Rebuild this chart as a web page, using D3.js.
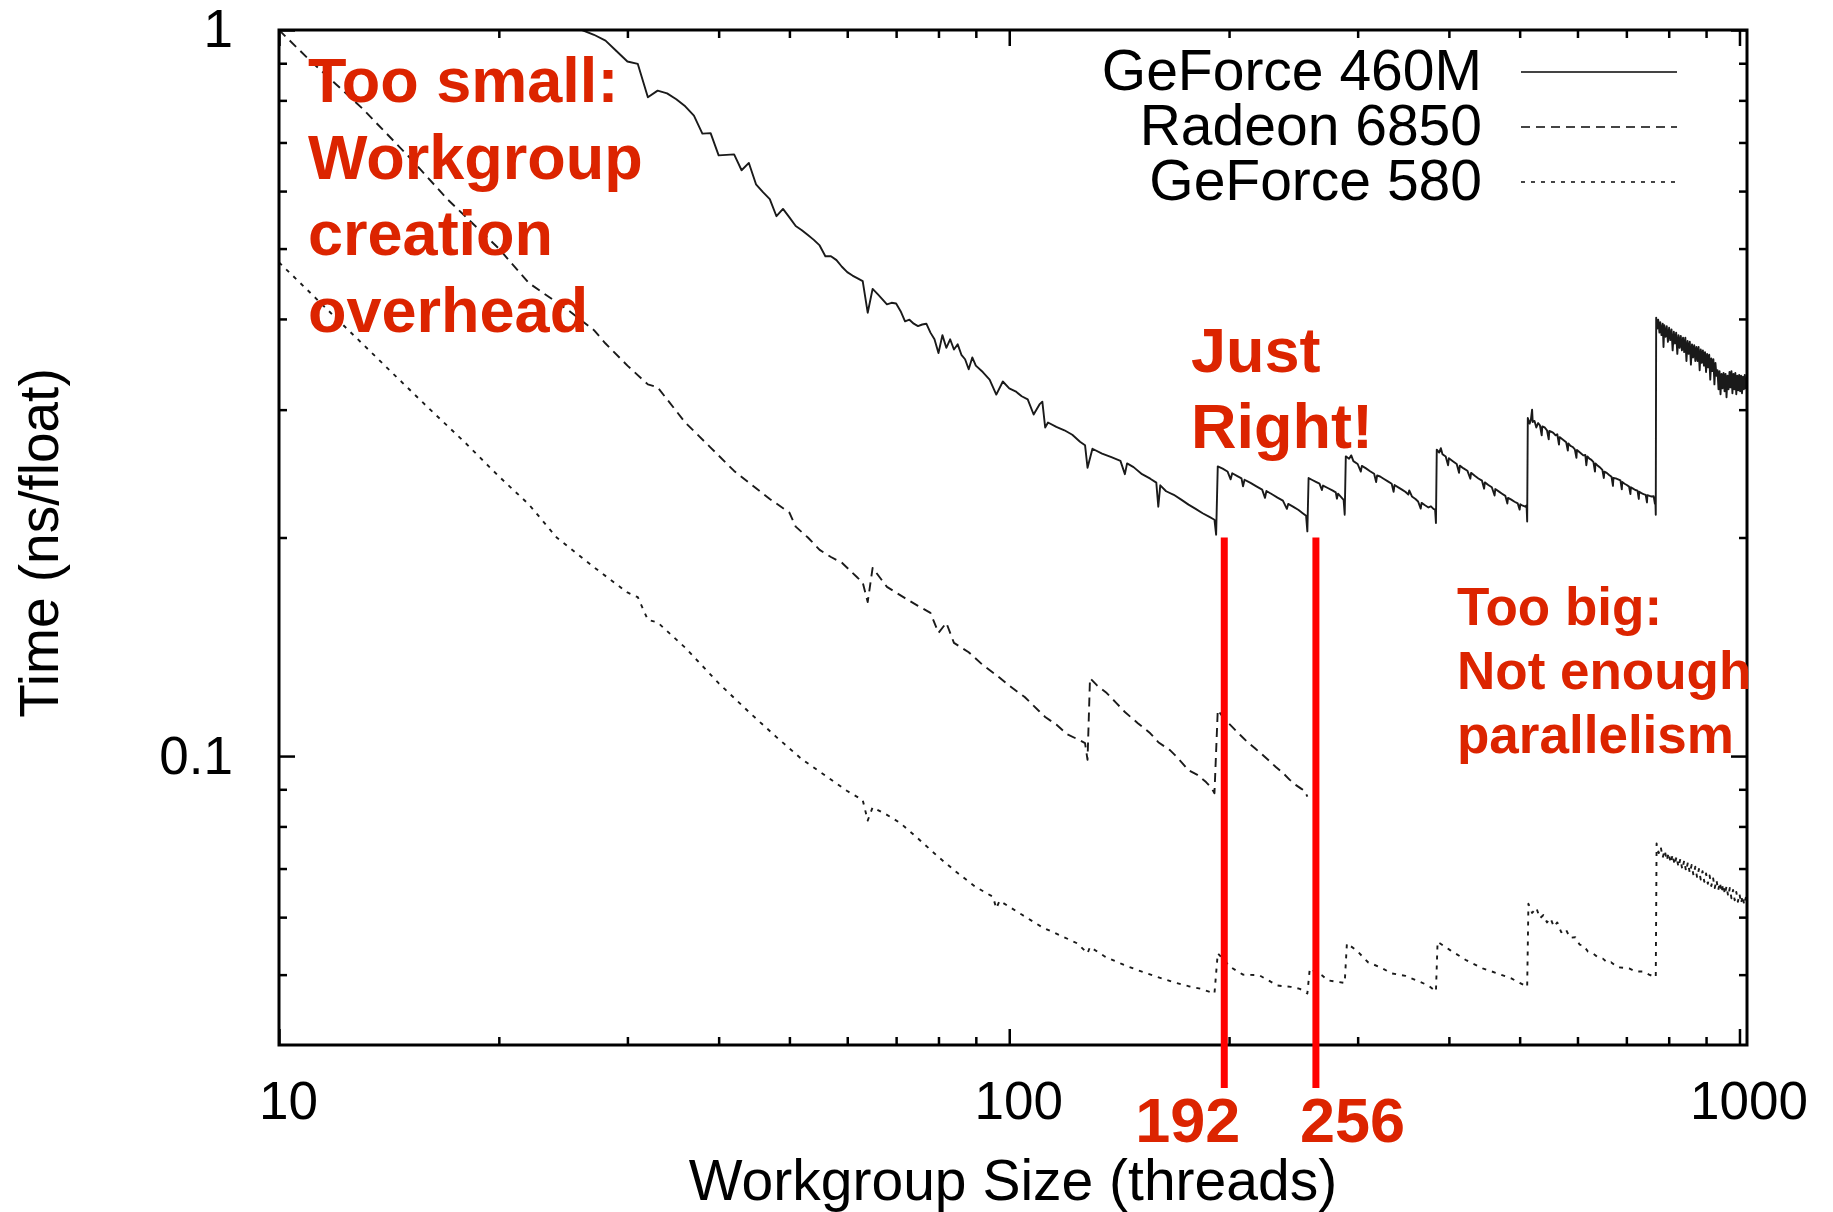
<!DOCTYPE html>
<html>
<head>
<meta charset="utf-8">
<script src="https://cdn.jsdelivr.net/npm/d3@7"></script>
<style>
  body { margin: 0; background: #fff; }
  text { font-family: "Liberation Sans", Arial, Helvetica, sans-serif; }
</style>
</head>
<body>
<div id="chart"></div>
<script>
// Data
//= ================================
var seriesNames = ["GeForce 460M", "Radeon 6850", "GeForce 580"];

var sizes460 = [24,25,26,27,28,29,30,31,32,33,34,35,36,37,38,39,40,41,42,43,44,45,46,47,48,49,50,51,52,53,54,55,56,57,58,59,60,61,62,63,64,65,66,67,68,69,70,71,72,73,74,75,76,77,78,79,80,81,82,83,84,85,86,87,88,89,90,92,94,96,98,100,102,104,106,108,110,111,112,113,116,119,122,125,127,128,130,134,138,142,144,145,148,152,156,159,160,161,164,168,172,176,180,184,188,191,192,
  193,196,199,201,202,205,208,209,210,214,218,222,224,225,229,233,237,240,241,245,249,252,255,256,
  257,260,263,266,268,269,273,277,280,281,282,285,287,288,
  289,292,294,296,300,303,304,308,312,316,318,319,322,326,330,334,336,337,341,345,349,352,353,356,360,363,366,367,371,375,378,381,383,384,
  385,388,390,392,396,399,400,405,410,413,414,419,424,428,429,434,439,444,447,448,453,458,462,463,468,473,478,481,482,487,492,497,500,501,505,509,511,512,
  513,516,518,520,521,524,527,530,533,536,537,541,545,548,549,553,556,560,563,566,567,571,575,579,582,583,587,591,595,598,599,603,607,611,615,617,619,623,627,631,634,635,640,645,649,652,653,658,663,668,671,672,677,682,687,690,691,696,701,706,709,710,715,720,725,728,729,734,739,744,747,748,753,758,763,766,767,768,
  769,772,774,777,779,782,785,787,789,792,795,798,801,804,807,810,813,816,819,822,825,828,831,834,837,840,843,846,849,852,855,858,861,864,867,870,873,876,879,882,885,888,891,894,897,900,903,906,909,912,915,918,921,924,927,930,933,936,939,942,945,948,951,954,957,960,963,966,969,972,975,978,981,984,987,990,993,996,999,1002,1005,1008,1011,1014,1017,1020,1023];
var time460 = [1.07,1.03,1.0,0.985,0.967,0.935,0.905,0.898,0.808,0.825,0.818,0.803,0.785,0.762,0.72,0.721,0.672,0.673,0.674,0.641,0.656,0.613,0.598,0.585,0.554,0.567,0.552,0.537,0.53,0.522,0.514,0.505,0.488,0.488,0.482,0.472,0.464,0.459,0.455,0.451,0.408,0.44,0.433,0.426,0.419,0.421,0.42,0.41,0.397,0.399,0.394,0.391,0.393,0.394,0.383,0.375,0.359,0.38,0.365,0.375,0.363,0.369,0.357,0.352,0.341,0.354,0.345,0.338,0.33,0.3147,0.328,0.321,0.318,0.313,0.31,0.2954,0.305,0.3077,0.2835,0.288,0.284,0.281,0.277,0.271,0.268,0.2495,0.265,0.261,0.258,0.255,0.2445,0.253,0.25,0.2445,0.241,0.238,0.2205,0.236,0.2316,0.229,0.2255,0.222,0.219,0.216,0.2135,0.2116,0.2018,
  0.2506,0.2488,0.2466,0.2405,0.2452,0.2432,0.2412,0.2352,0.2402,0.2378,0.2352,0.2328,0.2268,0.2318,0.2294,0.227,0.2248,0.219,0.2225,0.2204,0.2182,0.2162,0.2142,0.2039,
  0.2415,0.24,0.2386,0.2372,0.2325,0.2358,0.234,0.2322,0.2308,0.2262,0.2298,0.2272,0.2254,0.215,
  0.2587,0.2568,0.2595,0.2548,0.2525,0.2465,0.251,0.249,0.2468,0.2448,0.2385,0.2435,0.2427,0.2408,0.239,0.2372,0.2312,0.2362,0.2345,0.2328,0.231,0.2292,0.2322,0.2278,0.226,0.2242,0.2192,0.2232,0.2215,0.22,0.2208,0.219,0.2184,0.2094,
  0.2643,0.2618,0.2655,0.2605,0.2585,0.2515,0.2572,0.2548,0.2525,0.2455,0.2512,0.249,0.2472,0.241,0.2455,0.2432,0.2412,0.2395,0.2335,0.2382,0.2362,0.2345,0.2285,0.2332,0.2315,0.2298,0.2282,0.2228,0.2268,0.2255,0.224,0.2228,0.2185,0.2222,0.2212,0.2205,0.2215,0.2104,
  0.2922,0.287,0.2905,0.3,0.2885,0.2895,0.2835,0.2875,0.2855,0.2765,0.2845,0.2835,0.281,0.273,0.2805,0.2795,0.2787,0.2765,0.2775,0.2685,0.275,0.2735,0.272,0.2705,0.2635,0.2695,0.2675,0.2665,0.2645,0.2575,0.264,0.2625,0.261,0.2595,0.2598,0.2515,0.2587,0.2568,0.2558,0.254,0.2465,0.253,0.251,0.2495,0.2478,0.2415,0.2465,0.2455,0.2438,0.2425,0.2355,0.2415,0.2412,0.2405,0.2398,0.233,0.2385,0.2372,0.2362,0.235,0.2295,0.2345,0.2335,0.2325,0.232,0.226,0.2312,0.2302,0.2295,0.229,0.2235,0.2288,0.2282,0.2278,0.2279,0.2225,0.226,0.215,
  0.4016,0.388,0.399,0.383,0.396,0.38,0.394,0.366,0.392,0.378,0.391,0.372,0.389,0.374,0.387,0.362,0.384,0.37,0.383,0.358,0.38,0.365,0.379,0.362,0.377,0.36,0.377,0.35,0.373,0.358,0.372,0.346,0.369,0.354,0.368,0.35,0.366,0.35,0.366,0.34,0.363,0.348,0.362,0.345,0.36,0.338,0.358,0.343,0.357,0.33,0.353,0.339,0.352,0.325,0.348,0.334,0.34,0.32,0.339,0.315,0.336,0.321,0.337,0.318,0.336,0.312,0.334,0.32,0.338,0.322,0.339,0.316,0.336,0.32,0.337,0.315,0.334,0.319,0.335,0.318,0.334,0.316,0.333,0.32,0.335,0.321,0.332];

var sizes6850 = [10,11,12,13,15,17,20,22,25,27,28,30,32,33,36,39,42,44,47,50,51,53,55,57,59,62,63,64,65,68,72,75,78,80,82,84,88,92,96,100,105,110,112,116,120,124,127,128,129,132,136,140,144,150,156,160,166,170,176,181,186,189,191,193,197,202,207,212,217,222,227,232,237,242,247,251,254,256];
var time6850 = [1.0,0.91,0.84,0.78,0.672,0.585,0.5,0.448,0.41,0.386,0.37,0.345,0.325,0.322,0.288,0.266,0.247,0.238,0.226,0.2164,0.207,0.2,0.1923,0.188,0.1846,0.176,0.1735,0.163,0.1816,0.171,0.165,0.161,0.1575,0.1478,0.1526,0.1432,0.139,0.1335,0.1293,0.125,0.1206,0.1152,0.1132,0.1105,0.1072,0.1055,0.1042,0.0988,0.128,0.125,0.1221,0.1185,0.115,0.111,0.1075,0.1045,0.1019,0.0995,0.0956,0.0942,0.0921,0.0905,0.0889,0.1157,0.1125,0.1097,0.107,0.1045,0.1025,0.1005,0.0985,0.0965,0.0948,0.0928,0.0912,0.0902,0.0895,0.0879];

var sizes580 = [10,11,12,13,14,16,18,20,22,24,27,30,31,32,33,36,40,44,48,52,56,60,62,63,64,65,68,71,75,80,85,90,95,96,97,104,111,118,124,128,129,135,142,150,159,168,176,183,191,
  193,201,209,220,233,243,250,256,
  258,268,273,288,
  290,299,310,322,334,349,363,375,384,
  386,402,423,445,466,487,512,
  514,520,527,533,539,545,551,557,563,570,578,586,596,604,612,620,631,640,650,660,667,680,693,706,720,738,752,768,
  770,775,780,785,790,795,800,805,810,815,820,825,830,835,840,845,850,855,860,865,870,875,880,885,890,895,900,905,910,915,920,925,930,935,940,945,950,955,960,965,970,975,980,985,990,995,1000,1005,1010,1015,1020,1024];
var time580 = [0.4786,0.436,0.4,0.37,0.344,0.302,0.27,0.2428,0.222,0.2,0.182,0.168,0.1655,0.154,0.1528,0.141,0.126,0.115,0.1062,0.099,0.094,0.0895,0.0878,0.087,0.0815,0.085,0.083,0.0808,0.077,0.0726,0.069,0.066,0.064,0.0617,0.0632,0.0605,0.0581,0.0565,0.0552,0.0535,0.0546,0.053,0.0518,0.0507,0.0497,0.0488,0.0482,0.0478,0.0471,
  0.0535,0.0512,0.05,0.0499,0.0483,0.0481,0.0478,0.0471,
  0.051,0.0499,0.0491,0.0487,
  0.0552,0.054,0.052,0.0512,0.0502,0.0498,0.049,0.0483,0.0474,
  0.0555,0.054,0.0523,0.051,0.0502,0.0494,0.0481,
  0.0626,0.0608,0.0618,0.0598,0.0604,0.059,0.0598,0.0582,0.059,0.0572,0.0578,0.0562,0.0563,0.055,0.0548,0.0538,0.0534,0.0528,0.0526,0.0519,0.052,0.0512,0.0511,0.051,0.0505,0.0505,0.05,0.0496,
  0.0758,0.0735,0.075,0.0725,0.0742,0.0718,0.0736,0.0712,0.0732,0.0708,0.0727,0.0703,0.0722,0.0698,0.0718,0.0694,0.0714,0.069,0.0708,0.0685,0.0704,0.068,0.0699,0.0676,0.0694,0.0671,0.0689,0.0667,0.0685,0.0662,0.068,0.0658,0.0675,0.0653,0.067,0.0649,0.0666,0.0645,0.0662,0.0641,0.0658,0.0637,0.0654,0.0633,0.065,0.063,0.0646,0.0627,0.0642,0.0624,0.0638,0.063];

var xMajor = [10, 100, 1000];
var xTickLabels = ["10", "100", "1000"];
var xMinor = [20,30,40,50,60,70,80,90,200,300,400,500,600,700,800,900];
var yMajor = [0.1, 1];
var yTickLabels = ["0.1", "1"];
var yMinor = [0.05,0.06,0.07,0.08,0.09,0.2,0.3,0.4,0.5,0.6,0.7,0.8,0.9];

// annotation lines (drawn just right of the steps) and their labels
var markerX = [197, 263];
var markerLabels = ["192", "256"];

var noteSmall = ["Too small:", "Workgroup", "creation", "overhead"];
var noteRight = ["Just", "Right!"];
var noteBig = ["Too big:", "Not enough", "parallelism"];

// Step 1: Set up our chart
//= ================================
var svgWidth = 1833;
var svgHeight = 1212;

var margin = { top: 30, right: 86, bottom: 167, left: 279 };
var width = svgWidth - margin.left - margin.right;
var height = svgHeight - margin.top - margin.bottom;

var red = "#dc2400";
var ink = "#1a1a1a";

var svg = d3.select("#chart")
  .append("svg")
  .attr("width", svgWidth)
  .attr("height", svgHeight)
  .style("background", "#fff");

var chartGroup = svg.append("g")
  .attr("transform", `translate(${margin.left}, ${margin.top})`);

// Step 2: scales
const xScale = d3.scaleLog().domain([10, 1024]).range([0, width]);
const yScale = d3.scaleLog().domain([0.04, 1]).range([height, 0]);

// Step 3: axes (ticks point inward, mirrored on all four sides)
function styleAxis(g) {
  g.select(".domain").remove();
  g.selectAll("line").attr("stroke", "#000").attr("stroke-width", 2.5);
  g.selectAll("text")
    .attr("font-family", '"Liberation Sans", Arial, sans-serif')
    .attr("font-size", 53)
    .attr("fill", "#000");
}

chartGroup.append("g")
  .attr("transform", `translate(0, ${height})`)
  .call(d3.axisBottom(xScale).tickValues(xMajor).tickFormat((d, i) => xTickLabels[i])
    .tickSize(-16).tickSizeOuter(0).tickPadding(36))
  .call(styleAxis)
  .selectAll("text").attr("dx", 9);

chartGroup.append("g")
  .attr("transform", `translate(0, ${height})`)
  .call(d3.axisBottom(xScale).tickValues(xMinor).tickFormat("").tickSize(-8).tickSizeOuter(0))
  .call(styleAxis);

chartGroup.append("g")
  .call(d3.axisTop(xScale).tickValues(xMajor).tickFormat("").tickSize(-16).tickSizeOuter(0))
  .call(styleAxis);
chartGroup.append("g")
  .call(d3.axisTop(xScale).tickValues(xMinor).tickFormat("").tickSize(-8).tickSizeOuter(0))
  .call(styleAxis);

chartGroup.append("g")
  .call(d3.axisLeft(yScale).tickValues(yMajor).tickFormat((d, i) => yTickLabels[i])
    .tickSize(-16).tickSizeOuter(0).tickPadding(46))
  .call(styleAxis);
chartGroup.append("g")
  .call(d3.axisLeft(yScale).tickValues(yMinor).tickFormat("").tickSize(-8).tickSizeOuter(0))
  .call(styleAxis);

chartGroup.append("g")
  .attr("transform", `translate(${width}, 0)`)
  .call(d3.axisRight(yScale).tickValues(yMajor).tickFormat("").tickSize(-16).tickSizeOuter(0))
  .call(styleAxis);
chartGroup.append("g")
  .attr("transform", `translate(${width}, 0)`)
  .call(d3.axisRight(yScale).tickValues(yMinor).tickFormat("").tickSize(-8).tickSizeOuter(0))
  .call(styleAxis);

// Step 4: the three series
chartGroup.append("clipPath").attr("id", "plotClip")
  .append("rect").attr("width", width).attr("height", height);

var series = [
  { x: sizes460, y: time460, dash: null },
  { x: sizes6850, y: time6850, dash: "9,6" },
  { x: sizes580, y: time580, dash: "4,6" }
];

var line = d3.line()
  .x(d => xScale(d[0]))
  .y(d => yScale(d[1]));

series.forEach(function(s) {
  chartGroup.append("path")
    .datum(d3.zip(s.x, s.y))
    .attr("clip-path", "url(#plotClip)")
    .attr("fill", "none")
    .attr("stroke", ink)
    .attr("stroke-width", 1.9)
    .attr("stroke-linejoin", "round")
    .attr("stroke-dasharray", s.dash)
    .attr("d", line);
});

// frame
chartGroup.append("rect")
  .attr("width", width)
  .attr("height", height)
  .attr("fill", "none")
  .attr("stroke", "#000")
  .attr("stroke-width", 3);

// Step 5: legend
var legend = chartGroup.append("g");
series.forEach(function(s, i) {
  var ly = 60 + i * 55;
  legend.append("text")
    .attr("x", 1482 - margin.left)
    .attr("y", ly)
    .attr("text-anchor", "end")
    .attr("font-size", 57)
    .attr("fill", "#000")
    .text(seriesNames[i]);
  legend.append("line")
    .attr("x1", 1521 - margin.left)
    .attr("x2", 1677 - margin.left)
    .attr("y1", ly - 18)
    .attr("y2", ly - 18)
    .attr("stroke", "#444")
    .attr("stroke-width", 1.8)
    .attr("stroke-dasharray", s.dash);
});

// Step 6: axis titles
chartGroup.append("text")
  .attr("x", 1013 - margin.left)
  .attr("y", 1200 - margin.top)
  .attr("text-anchor", "middle")
  .attr("font-size", 57)
  .text("Workgroup Size (threads)");

chartGroup.append("text")
  .attr("transform", `translate(${58 - margin.left}, ${543 - margin.top}) rotate(-90)`)
  .attr("text-anchor", "middle")
  .attr("font-size", 55)
  .text("Time (ns/float)");

// Step 7: red annotations
chartGroup.selectAll(".marker")
  .data(markerX)
  .enter()
  .append("line")
  .attr("x1", d => xScale(d))
  .attr("x2", d => xScale(d))
  .attr("y1", yScale(0.2))
  .attr("y2", height + 43)
  .attr("stroke", "#ff0000")
  .attr("stroke-width", 7);

chartGroup.selectAll(".markerLabel")
  .data(markerX)
  .enter()
  .append("text")
  .attr("x", (d, i) => xScale(d) + (i === 0 ? 16 : -16))
  .attr("y", 1142 - margin.top)
  .attr("text-anchor", (d, i) => i === 0 ? "end" : "start")
  .attr("font-size", 63)
  .attr("font-weight", "bold")
  .attr("fill", red)
  .text((d, i) => markerLabels[i]);

function note(lines, x0, y0, step, size) {
  chartGroup.append("g").selectAll("text")
    .data(lines)
    .enter()
    .append("text")
    .attr("x", x0 - margin.left)
    .attr("y", (d, i) => y0 - margin.top + i * step)
    .attr("font-size", size)
    .attr("font-weight", "bold")
    .attr("fill", red)
    .text(d => d);
}

note(noteSmall, 308, 102, 76.7, 63);
note(noteRight, 1191, 372, 76, 63);
note(noteBig, 1457, 625, 64, 53);
</script>
</body>
</html>
